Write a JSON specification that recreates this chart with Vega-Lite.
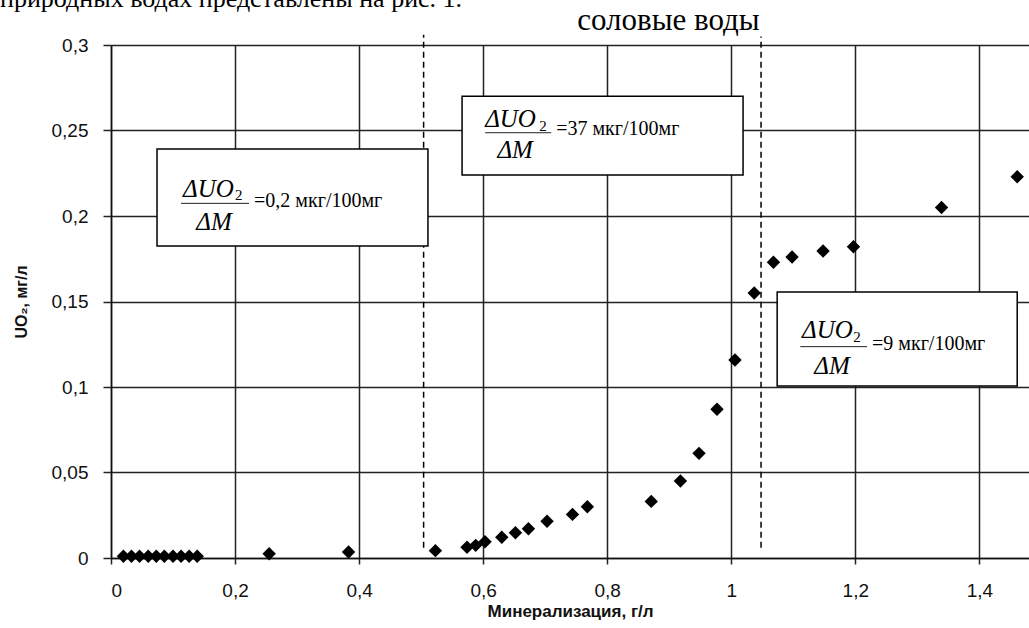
{
  "$schema": "https://vega.github.io/schema/vega-lite/v6.json",
  "width": 918,
  "height": 513,
  "autosize": {"type": "none"},
  "padding": {"left": 111, "top": 45, "right": 0, "bottom": 70},
  "background": "white",
  "config": {"view": {"stroke": null}},
  "datasets": {
    "points": [
      {"m": 0.020, "u": 0.001}, {"m": 0.033, "u": 0.001}, {"m": 0.046, "u": 0.001}, {"m": 0.060, "u": 0.001}, {"m": 0.073, "u": 0.001},
      {"m": 0.086, "u": 0.001}, {"m": 0.100, "u": 0.001}, {"m": 0.113, "u": 0.001}, {"m": 0.126, "u": 0.001}, {"m": 0.139, "u": 0.001},
      {"m": 0.255, "u": 0.0025}, {"m": 0.383, "u": 0.0035}, {"m": 0.523, "u": 0.0043},
      {"m": 0.574, "u": 0.0063}, {"m": 0.588, "u": 0.0074}, {"m": 0.603, "u": 0.0095}, {"m": 0.630, "u": 0.0121},
      {"m": 0.652, "u": 0.0148}, {"m": 0.673, "u": 0.0171}, {"m": 0.703, "u": 0.0215}, {"m": 0.744, "u": 0.0255},
      {"m": 0.768, "u": 0.030}, {"m": 0.871, "u": 0.0331}, {"m": 0.918, "u": 0.045}, {"m": 0.948, "u": 0.0612},
      {"m": 0.977, "u": 0.087}, {"m": 1.006, "u": 0.1158}, {"m": 1.037, "u": 0.155}, {"m": 1.068, "u": 0.173},
      {"m": 1.098, "u": 0.176}, {"m": 1.148, "u": 0.1795}, {"m": 1.197, "u": 0.182}, {"m": 1.339, "u": 0.205},
      {"m": 1.461, "u": 0.223}
    ],
    "dashes": [
      {"x": 0.504, "y1": 0.006, "y2": 0.306},
      {"x": 1.048, "y1": 0.006, "y2": 0.305}
    ],
    "boxes": [
      {"x1": 0.0742, "x2": 0.511, "y1": 0.2392, "y2": 0.1825},
      {"x1": 0.566, "x2": 1.019, "y1": 0.270, "y2": 0.224},
      {"x1": 1.074, "x2": 1.461, "y1": 0.1556, "y2": 0.1006}
    ],
    "numer": [
      {"x": 0.1161, "y": 0.2113, "t": "ΔUO"},
      {"x": 0.6032, "y": 0.2520, "t": "ΔUO"},
      {"x": 1.114, "y": 0.1285, "t": "ΔUO"}
    ],
    "subs": [
      {"x": 0.200, "y": 0.2094, "t": "2"},
      {"x": 0.6903, "y": 0.2497, "t": "2"},
      {"x": 1.1966, "y": 0.1263, "t": "2"}
    ],
    "fracs": [
      {"x1": 0.1129, "x2": 0.2226, "y": 0.2074},
      {"x1": 0.6032, "x2": 0.7097, "y": 0.2487},
      {"x1": 1.1113, "x2": 1.2189, "y": 0.1236}
    ],
    "denom": [
      {"x": 0.1661, "y": 0.1918, "t": "ΔM"},
      {"x": 0.6516, "y": 0.2337, "t": "ΔM"},
      {"x": 1.1624, "y": 0.1074, "t": "ΔM"}
    ],
    "vals": [
      {"x": 0.2306, "y": 0.2054, "t": "=0,2 мкг/100мг"},
      {"x": 0.7177, "y": 0.2471, "t": "=37 мкг/100мг"},
      {"x": 1.2269, "y": 0.1219, "t": "=9 мкг/100мг"}
    ],
    "topline": [
      {"x": -0.179, "y": 0.3222, "t": "природных водах представлены на рис. 1."}
    ],
    "label": [
      {"x": 0.7516, "y": 0.3088, "t": "соловые воды"}
    ]
  },
  "layer": [
    {
      "data": {"name": "dashes"},
      "mark": {"type": "rule", "color": "black", "strokeWidth": 1.5, "strokeDash": [6, 4]},
      "encoding": {
        "x": {"field": "x", "type": "quantitative",
          "scale": {"domain": [0, 1.48], "nice": false, "zero": false},
          "axis": {
            "values": [0, 0.2, 0.4, 0.6, 0.8, 1, 1.2, 1.4],
            "labelExpr": "replace(toString(datum.value), '.', ',')",
            "grid": true, "gridColor": "#222", "gridWidth": 1.5, "gridOpacity": 1,
            "domainColor": "#111", "domainWidth": 1.5,
            "tickColor": "#222", "tickWidth": 1.5, "tickSize": 6,
            "labelFont": "Liberation Sans", "labelFontSize": 19, "labelColor": "#111", "labelPadding": 17,
            "title": "Минерализация, г/л", "titleFont": "Liberation Sans", "titleFontSize": 17,
            "titleFontWeight": "bold", "titleColor": "#111", "titlePadding": 3
          }
        },
        "y": {"field": "y1", "type": "quantitative",
          "scale": {"domain": [0, 0.3], "nice": false, "zero": false},
          "axis": {
            "values": [0, 0.05, 0.1, 0.15, 0.2, 0.25, 0.3],
            "labelExpr": "replace(toString(datum.value), '.', ',')",
            "grid": true, "gridColor": "#222", "gridWidth": 1.5, "gridOpacity": 1,
            "domainColor": "#111", "domainWidth": 1.5,
            "tickColor": "#222", "tickWidth": 1.5, "tickSize": 8,
            "labelFont": "Liberation Sans", "labelFontSize": 19, "labelColor": "#111", "labelPadding": 15,
            "title": "UO₂, мг/л", "titleFont": "Liberation Sans", "titleFontSize": 16,
            "titleFontWeight": "bold", "titleColor": "#111", "titlePadding": 22
          }
        },
        "y2": {"field": "y2"}
      }
    },
    {
      "data": {"name": "boxes"},
      "mark": {"type": "rect", "fill": "white", "stroke": "black", "strokeWidth": 1.5},
      "encoding": {
        "x": {"field": "x1", "type": "quantitative"},
        "x2": {"field": "x2"},
        "y": {"field": "y1", "type": "quantitative"},
        "y2": {"field": "y2"}
      }
    },
    {
      "data": {"name": "fracs"},
      "mark": {"type": "rule", "color": "#222", "strokeWidth": 1},
      "encoding": {
        "x": {"field": "x1", "type": "quantitative"},
        "x2": {"field": "x2"},
        "y": {"field": "y", "type": "quantitative"}
      }
    },
    {
      "data": {"name": "numer"},
      "mark": {"type": "text", "font": "Liberation Serif", "fontStyle": "italic", "fontSize": 25, "align": "left", "baseline": "alphabetic", "color": "black"},
      "encoding": {
        "x": {"field": "x", "type": "quantitative"},
        "y": {"field": "y", "type": "quantitative"},
        "text": {"field": "t"}
      }
    },
    {
      "data": {"name": "subs"},
      "mark": {"type": "text", "font": "Liberation Serif", "fontSize": 15, "align": "left", "baseline": "alphabetic", "color": "black"},
      "encoding": {
        "x": {"field": "x", "type": "quantitative"},
        "y": {"field": "y", "type": "quantitative"},
        "text": {"field": "t"}
      }
    },
    {
      "data": {"name": "denom"},
      "mark": {"type": "text", "font": "Liberation Serif", "fontStyle": "italic", "fontSize": 25, "align": "center", "baseline": "alphabetic", "color": "black"},
      "encoding": {
        "x": {"field": "x", "type": "quantitative"},
        "y": {"field": "y", "type": "quantitative"},
        "text": {"field": "t"}
      }
    },
    {
      "data": {"name": "vals"},
      "mark": {"type": "text", "font": "Liberation Serif", "fontSize": 20, "align": "left", "baseline": "alphabetic", "color": "black"},
      "encoding": {
        "x": {"field": "x", "type": "quantitative"},
        "y": {"field": "y", "type": "quantitative"},
        "text": {"field": "t"}
      }
    },
    {
      "data": {"name": "topline"},
      "mark": {"type": "text", "font": "Liberation Serif", "fontSize": 26, "align": "left", "baseline": "alphabetic", "color": "black"},
      "encoding": {
        "x": {"field": "x", "type": "quantitative"},
        "y": {"field": "y", "type": "quantitative"},
        "text": {"field": "t"}
      }
    },
    {
      "data": {"name": "label"},
      "mark": {"type": "text", "font": "Liberation Serif", "fontSize": 31, "align": "left", "baseline": "alphabetic", "color": "black"},
      "encoding": {
        "x": {"field": "x", "type": "quantitative"},
        "y": {"field": "y", "type": "quantitative"},
        "text": {"field": "t"}
      }
    },
    {
      "data": {"name": "points"},
      "mark": {"type": "point", "shape": "diamond", "filled": true, "color": "black", "opacity": 1, "size": 180},
      "encoding": {
        "x": {"field": "m", "type": "quantitative"},
        "y": {"field": "u", "type": "quantitative"}
      }
    }
  ]
}
